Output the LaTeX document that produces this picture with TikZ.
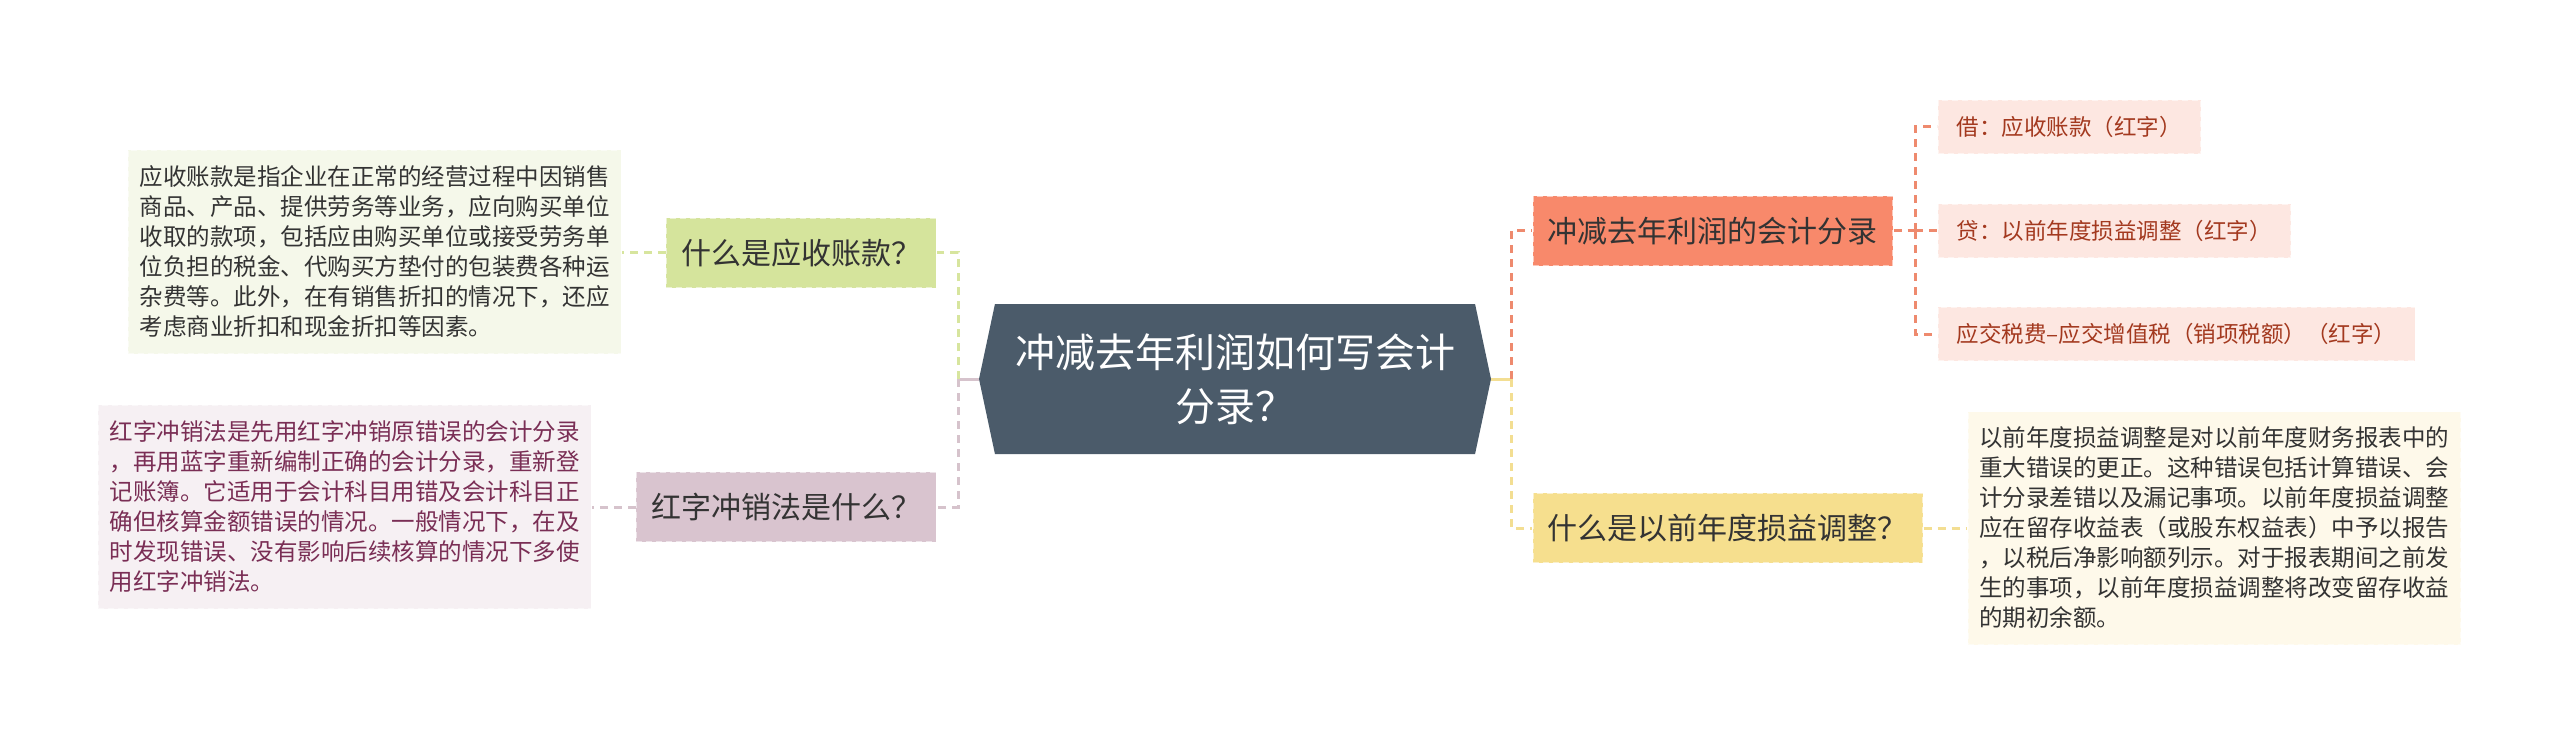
\documentclass[tikz,border=0pt]{standalone}
\usepackage{fontspec}
\setmainfont{Noto Sans CJK SC}
\usepackage{xcolor}
\usetikzlibrary{shapes.symbols}
\definecolor{rootfill}{HTML}{4B5B6A}
\definecolor{textdark}{HTML}{333333}
\definecolor{greentopic}{HTML}{D5E49C}
\definecolor{greenleaf}{HTML}{F5F8EA}
\definecolor{pinktopic}{HTML}{D9C4CF}
\definecolor{pinkleaf}{HTML}{F6F0F3}
\definecolor{pinktext}{HTML}{7A2E55}
\definecolor{orangetopic}{HTML}{F8896B}
\definecolor{orangeleaf}{HTML}{FDE7E1}
\definecolor{orangetext}{HTML}{A3391F}
\definecolor{yellowtopic}{HTML}{F6DF8E}
\definecolor{yellowleaf}{HTML}{FEF9EA}
\definecolor{greenline}{HTML}{D7E59E}
\definecolor{pinkline}{HTML}{D6C3CC}
\definecolor{orangeline}{HTML}{EE8A6E}
\definecolor{yellowline}{HTML}{F3DE92}
\tikzset{
  rootnode/.style={signal,signal to=west and east,signal pointer angle=156,fill=rootfill,text=white,minimum width=512pt,minimum height=150pt,align=center,font=\fontsize{40}{54}\selectfont},
  topic/.style={fill=#1,draw=white,draw opacity=0.55,dash pattern=on 6pt off 4pt,line width=1.5pt,inner xsep=15pt,minimum height=70pt,text=textdark,font=\fontsize{30}{36}\selectfont},
  entryleaf/.style={fill=orangeleaf,draw=white,draw opacity=0.55,dash pattern=on 6pt off 4pt,line width=1.5pt,inner xsep=19pt,minimum height=54pt,text=orangetext,font=\fontsize{22.5}{27}\selectfont},
  noteleaf/.style n args={3}{fill=#1,text=#2,minimum height=#3,draw=white,draw opacity=0.55,dash pattern=on 6pt off 4pt,line width=1.5pt,inner xsep=11.5pt,text width=470pt,align=left,font=\fontsize{23.5}{30}\selectfont},
  branch/.style={draw=#1,line width=3pt,dash pattern=on 8pt off 6pt},
  stem/.style={draw=#1,line width=3pt}
}

\begin{document}
\begin{tikzpicture}[x=1pt,y=-1pt]
  % drawing parameters
  \pgfmathsetmacro{\lj}{958} % left junction
  \pgfmathsetmacro{\rj}{1511} % right junction
  \pgfmathsetmacro{\oj}{1915} % junction of the entries

  \useasboundingbox (0,0) rectangle (2560,746);

  % centre
  \node[rootnode] (root) at (1235,379) {冲减去年利润如何写会计\\分录？};

  % left side
  \node[topic=greentopic,anchor=east] (askrecv) at (937,253) {什么是应收账款？};
  \node[topic=pinktopic,anchor=east] (askred) at (937,507) {红字冲销法是什么？};
  \node[noteleaf={greenleaf}{textdark}{203pt},anchor=east] (recvnote) at (622,252) {应收账款是指企业在正常的经营过程中因销售\\商品、产品、提供劳务等业务，应向购买单位\\收取的款项，包括应由购买单位或接受劳务单\\位负担的税金、代购买方垫付的包装费各种运\\杂费等。此外，在有销售折扣的情况下，还应\\考虑商业折扣和现金折扣等因素。};
  \node[noteleaf={pinkleaf}{pinktext}{204pt},anchor=east] (rednote) at (592,507) {红字冲销法是先用红字冲销原错误的会计分录\\，再用蓝字重新编制正确的会计分录，重新登\\记账簿。它适用于会计科目用错及会计科目正\\确但核算金额错误的情况。一般情况下，在及\\时发现错误、没有影响后续核算的情况下多使\\用红字冲销法。};

  % right side
  \node[topic=orangetopic,anchor=west] (entry) at (1532,231) {冲减去年利润的会计分录};
  \node[topic=yellowtopic,anchor=west] (askadj) at (1532,528) {什么是以前年度损益调整？};
  \node[entryleaf,anchor=west] (debit) at (1937,127) {借：应收账款（红字）};
  \node[entryleaf,anchor=west] (credit) at (1937,231) {贷：以前年度损益调整（红字）};
  \node[entryleaf,anchor=west] (tax) at (1937,334) {应交税费–应交增值税（销项税额）（红字）};
  \node[noteleaf={yellowleaf}{textdark}{233pt},anchor=west] (adjnote) at (1967,528) {以前年度损益调整是对以前年度财务报表中的\\重大错误的更正。这种错误包括计算错误、会\\计分录差错以及漏记事项。以前年度损益调整\\应在留存收益表（或股东权益表）中予以报告\\，以税后净影响额列示。对于报表期间之前发\\生的事项，以前年度损益调整将改变留存收益\\的期初余额。};

  % junctions
  \coordinate (ljoin) at (\lj,379);
  \coordinate (rjoin) at (\rj,379);
  \coordinate (ojoin) at (\oj,231);

  % left connectors
  \draw[stem=pinkline] (root.west) -- (ljoin);
  \draw[branch=greenline] (ljoin) |- (askrecv.east);
  \draw[branch=pinkline] (ljoin) |- (askred.east);
  \draw[branch=greenline] (askrecv.west) -- (askrecv.west -| recvnote.east);
  \draw[branch=pinkline] (askred.west) -- (rednote.east);

  % right connectors
  \draw[stem=yellowline] (root.east) -- (rjoin);
  \draw[branch=orangeline] (rjoin) |- (entry.west);
  \draw[branch=yellowline] (rjoin) |- (askadj.west);
  \draw[branch=yellowline] (askadj.east) -- (adjnote.west);
  \draw[branch=orangeline] (entry.east) -- (ojoin);
  \draw[branch=orangeline] (ojoin) |- (debit.west);
  \draw[branch=orangeline] (ojoin) -- (credit.west);
  \draw[branch=orangeline] (ojoin) |- (tax.west);
\end{tikzpicture}
\end{document}
